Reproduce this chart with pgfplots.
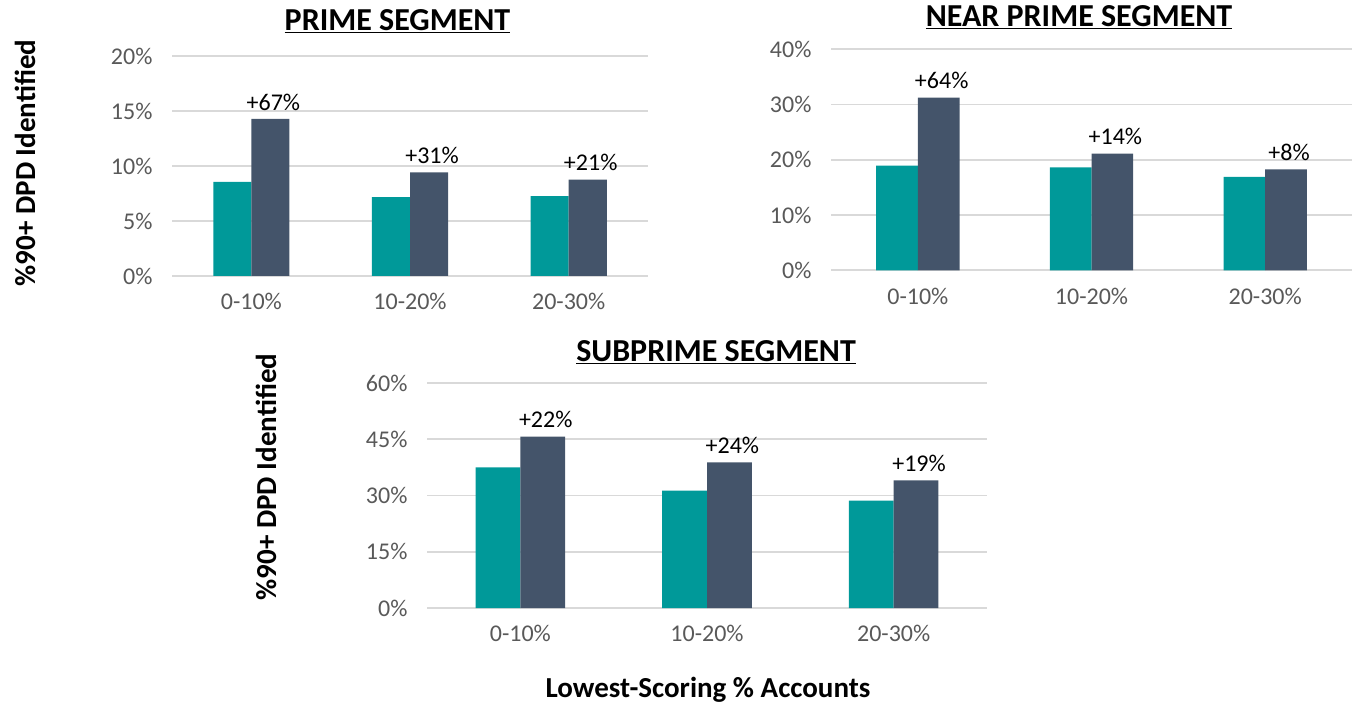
\documentclass[border=0pt]{standalone}
\usepackage{fontspec}
\setmainfont{Carlito}
\usepackage{pgfplots}
\pgfplotsset{compat=1.18}
\definecolor{tealbar}{HTML}{009999}
\definecolor{slatebar}{HTML}{44546A}
\definecolor{gridg}{HTML}{D9D9D9}
\definecolor{tickg}{HTML}{595959}
\pgfplotsset{
  seg/.style={
    scale only axis, anchor=south west,
    ybar=0pt, bar width=0.24,
    xmin=-0.5, xmax=2.5, ymin=0,
    xtick={0,1,2}, xticklabels={0-10\%,10-20\%,20-30\%},
    axis line style={draw=none},
    major tick length=0pt,
    ymajorgrids, grid style={gridg, line width=1.6pt},
    ticklabel style={font=\fontsize{24}{28}\selectfont, text=tickg},
    /pgf/number format/assume math mode=true,
    yticklabel={\pgfmathprintnumber{\tick}\%},
    yticklabel style={xshift=-16pt},
    xticklabel style={yshift=-14pt},
    clip=false,
  },
  tealser/.style={fill=tealbar, draw=none},
  slateser/.style={fill=slatebar, draw=none,
    point meta=explicit symbolic,
    nodes near coords={\pgfplotspointmeta},
    nodes near coords style={font=\fontsize{24}{28}\selectfont, text=black, yshift=5pt, xshift=3pt}},
}
\begin{document}
\begin{tikzpicture}[x=1pt,y=1pt]
\path[use as bounding box] (0,0) rectangle (1354,707);

% PRIME
\begin{axis}[seg, at={(172pt,431pt)}, width=476pt, height=220pt,
  ymax=20, ytick={0,5,10,15,20}]
\addplot[tealser] coordinates {(0,8.56) (1,7.16) (2,7.25)};
\addplot[slateser] coordinates {(0,14.29) [+67\%] (1,9.41) [+31\%] (2,8.77) [+21\%]};
\end{axis}

% NEAR PRIME
\begin{axis}[seg, at={(831pt,436.7pt)}, width=521pt, height=221pt,
  ymax=40, ytick={0,10,20,30,40}]
\addplot[tealser] coordinates {(0,18.94) (1,18.64) (2,16.89)};
\addplot[slateser] coordinates {(0,31.25) [+64\%] (1,21.12) [+14\%] (2,18.28) [+8\%]};
\end{axis}

% SUBPRIME
\begin{axis}[seg, at={(427pt,99pt)}, width=560pt, height=225pt,
  ymax=60, ytick={0,15,30,45,60}]
\addplot[tealser] coordinates {(0,37.5) (1,31.3) (2,28.6)};
\addplot[slateser] coordinates {(0,45.7) [+22\%] (1,38.8) [+24\%] (2,34.0) [+19\%]};
\end{axis}

% titles
\node[anchor=base, font=\fontsize{32}{36}\selectfont\bfseries] at (397.5,676) {\underline{PRIME SEGMENT}};
\node[anchor=base, font=\fontsize{32}{36}\selectfont\bfseries] at (1079,680) {\underline{NEAR PRIME SEGMENT}};
\node[anchor=base, font=\fontsize{32}{36}\selectfont\bfseries] at (716,345) {\underline{SUBPRIME SEGMENT}};

% axis labels
\node[rotate=90, font=\fontsize{29}{34}\selectfont\bfseries] at (25,544) {\%90+ DPD Identified};
\node[rotate=90, font=\fontsize{29}{34}\selectfont\bfseries] at (266,230) {\%90+ DPD Identified};
\node[font=\fontsize{29}{34}\selectfont\bfseries] at (708,17) {Lowest-Scoring \% Accounts};
\end{tikzpicture}
\end{document}
